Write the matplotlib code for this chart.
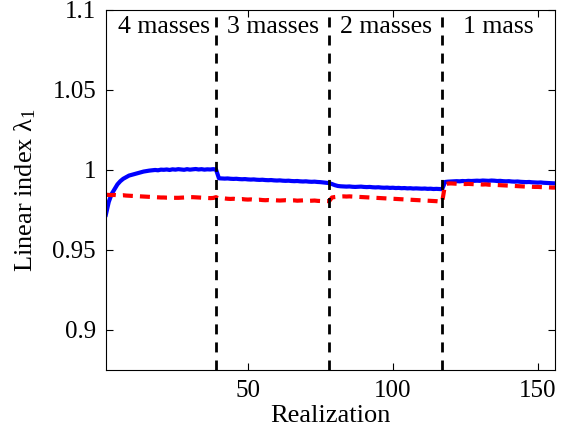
import numpy as np
import matplotlib
matplotlib.use("Agg")
import matplotlib.pyplot as plt

# Linear index per realization
# blue solid (one segment per number of masses)
blue_4 = [0.9720, 0.9800, 0.9850, 0.9880, 0.9910, 0.9930, 0.9945, 0.9955, 0.9965, 0.9970,
          0.9975, 0.9980, 0.9985, 0.9990, 0.9993, 0.9996, 0.9998, 1.0000, 0.9998, 1.0002,
          1.0001, 1.0003, 1.0000, 1.0004, 1.0002, 1.0005, 1.0003, 1.0001, 1.0005, 1.0002,
          1.0004, 1.0006, 1.0003, 1.0005, 1.0002, 1.0004, 1.0003, 1.0005, 1.0003]
blue_3 = [0.9948, 0.9947, 0.9946, 0.9947, 0.9945, 0.9944, 0.9945, 0.9943, 0.9942, 0.9943,
          0.9941, 0.9940, 0.9941, 0.9939, 0.9938, 0.9939, 0.9937, 0.9936, 0.9937, 0.9935,
          0.9934, 0.9935, 0.9933, 0.9932, 0.9933, 0.9931, 0.9930, 0.9931, 0.9929, 0.9928,
          0.9929, 0.9927, 0.9926, 0.9927, 0.9925, 0.9924, 0.9922, 0.9920, 0.9918]
blue_2 = [0.9912, 0.9905, 0.9900, 0.9898, 0.9897, 0.9896, 0.9897, 0.9895, 0.9894, 0.9895,
          0.9896, 0.9894, 0.9893, 0.9894, 0.9892, 0.9891, 0.9892, 0.9890, 0.9889, 0.9890,
          0.9888, 0.9889, 0.9887, 0.9888, 0.9886, 0.9887, 0.9885, 0.9886, 0.9884, 0.9885,
          0.9884, 0.9883, 0.9884, 0.9882, 0.9883, 0.9881, 0.9882, 0.9881, 0.9880]
blue_1 = [0.9925, 0.9927, 0.9928, 0.9929, 0.9930, 0.9929, 0.9931, 0.9930, 0.9932, 0.9931,
          0.9932, 0.9933, 0.9932, 0.9934, 0.9933, 0.9932, 0.9934, 0.9933, 0.9931, 0.9932,
          0.9930, 0.9929, 0.9930, 0.9928, 0.9927, 0.9928, 0.9926, 0.9925, 0.9924, 0.9925,
          0.9923, 0.9922, 0.9921, 0.9922, 0.9920, 0.9919, 0.9918, 0.9917, 0.9916]

# red dashed
red_4 = [0.9845, 0.9844, 0.9843, 0.9844, 0.9842, 0.9841, 0.9842, 0.9840, 0.9839, 0.9838,
         0.9837, 0.9836, 0.9835, 0.9834, 0.9833, 0.9832, 0.9831, 0.9830, 0.9829, 0.9828,
         0.9828, 0.9827, 0.9827, 0.9826, 0.9826, 0.9826, 0.9827, 0.9828, 0.9829, 0.9830,
         0.9830, 0.9829, 0.9828, 0.9827, 0.9826, 0.9825, 0.9824, 0.9825, 0.9830]
red_3 = [0.9822, 0.9821, 0.9822, 0.9820, 0.9819, 0.9820, 0.9818, 0.9817, 0.9818, 0.9816,
         0.9815, 0.9816, 0.9814, 0.9813, 0.9814, 0.9812, 0.9811, 0.9812, 0.9810, 0.9811,
         0.9810, 0.9809, 0.9810, 0.9811, 0.9810, 0.9809, 0.9810, 0.9808, 0.9809, 0.9810,
         0.9808, 0.9807, 0.9808, 0.9809, 0.9807, 0.9806, 0.9807, 0.9806, 0.9805]
red_2 = [0.9828, 0.9831, 0.9833, 0.9834, 0.9835, 0.9834, 0.9835, 0.9834, 0.9833, 0.9832,
         0.9831, 0.9830, 0.9829, 0.9828, 0.9827, 0.9826, 0.9825, 0.9824, 0.9823, 0.9822,
         0.9821, 0.9820, 0.9819, 0.9818, 0.9817, 0.9816, 0.9815, 0.9814, 0.9813, 0.9812,
         0.9811, 0.9810, 0.9809, 0.9808, 0.9807, 0.9806, 0.9805, 0.9803, 0.9800]
red_1 = [0.9910, 0.9915, 0.9916, 0.9915, 0.9914, 0.9915, 0.9913, 0.9912, 0.9913, 0.9912,
         0.9911, 0.9912, 0.9910, 0.9909, 0.9910, 0.9908, 0.9907, 0.9908, 0.9906, 0.9905,
         0.9904, 0.9903, 0.9902, 0.9901, 0.9900, 0.9899, 0.9898, 0.9897, 0.9896, 0.9896,
         0.9895, 0.9894, 0.9894, 0.9893, 0.9892, 0.9892, 0.9891, 0.9890, 0.9890]

boundaries = [39, 78, 117]
region_labels = ["4 masses", "3 masses", "2 masses", "1 mass"]
region_centers = [21, 58.5, 97.5, 136.5]

blue = np.array(blue_4 + blue_3 + blue_2 + blue_1)
red = np.array(red_4 + red_3 + red_2 + red_1)
x = np.arange(1, len(blue) + 1)

plt.rcParams['font.family'] = ['Liberation Serif', 'DejaVu Serif']
plt.rcParams['mathtext.fontset'] = 'custom'
plt.rcParams['mathtext.rm'] = 'Liberation Serif'
plt.rcParams['mathtext.it'] = 'Liberation Serif:italic'

fig = plt.figure(figsize=(5.66, 4.32), dpi=100)
ax = fig.add_axes([0.187, 0.1435, 0.794, 0.8335])

ax.plot(x, blue, color='#0000ff', lw=3.0, solid_joinstyle='round')
ax.plot(x, red, color='#ff0000', lw=3.0, dashes=(2.4, 1.7))

for b in boundaries:
    ax.axvline(b, color='k', lw=2.0, dashes=(3.6, 2.9))

for cx, lab in zip(region_centers, region_labels):
    ax.text(cx, 1.0895, lab, ha='center', va='center', fontsize=18.5)

ax.set_xlim(1, 156)
ax.set_ylim(0.875, 1.1)
ax.set_xticks([50, 100, 150])
ax.set_yticks([0.9, 0.95, 1.0, 1.05, 1.1])
ax.set_yticklabels(['0.9', '0.95', '1', '1.05', '1.1'])
ax.tick_params(direction='in', top=True, right=True, labelsize=18, length=5, width=0.8, pad=7)
ax.set_xlabel('Realization', fontsize=19, labelpad=2)
ax.set_ylabel(r'Linear index λ$_1$', fontsize=19, labelpad=10)

plt.savefig('out.png', dpi=100)
